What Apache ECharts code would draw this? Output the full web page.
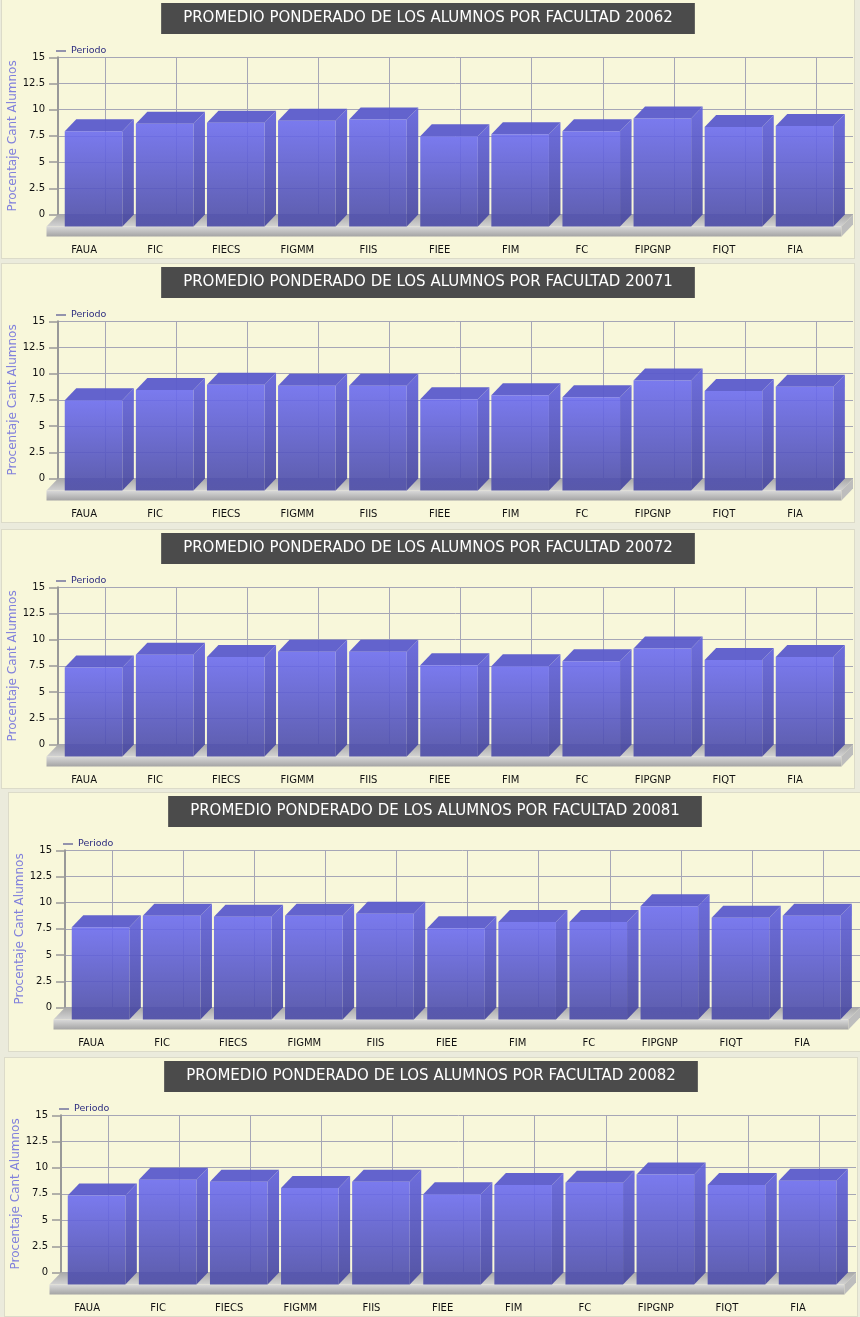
<!DOCTYPE html>
<html>
<head>
<meta charset="utf-8">
<title>Promedio ponderado de los alumnos por facultad</title>
<script src="https://cdn.jsdelivr.net/npm/echarts@6/dist/echarts.min.js"></script>
<style>
html, body { margin: 0; padding: 0; background: #ebebdc; }
body { width: 860px; height: 1317px; position: relative; overflow: hidden; }
.marco { position: absolute; width: 852px; height: 258px; background: #f8f7da; border: 1px solid #dcdbc9; }
</style>
</head>
<body>
<div id="g20062" class="marco" style="left:1px;top:-1px"></div>
<div id="g20071" class="marco" style="left:1px;top:263px"></div>
<div id="g20072" class="marco" style="left:1px;top:529px"></div>
<div id="g20081" class="marco" style="left:8px;top:792px"></div>
<div id="g20082" class="marco" style="left:4px;top:1057px"></div>
<script>
// datos
var facultades = ['FAUA', 'FIC', 'FIECS', 'FIGMM', 'FIIS', 'FIEE', 'FIM', 'FC', 'FIPGNP', 'FIQT', 'FIA'];
var periodos = ['20062', '20071', '20072', '20081', '20082'];
var ticksY = [0, 2.5, 5, 7.5, 10, 12.5, 15];

var prom20062 = [9.1, 9.8, 9.9, 10.1, 10.2, 8.6, 8.8, 9.1, 10.3, 9.5, 9.6];
var prom20071 = [8.6, 9.6, 10.1, 10.0, 10.0, 8.7, 9.1, 8.9, 10.5, 9.5, 9.9];
var prom20072 = [8.5, 9.7, 9.5, 10.0, 10.0, 8.7, 8.6, 9.1, 10.3, 9.2, 9.5];
var prom20081 = [8.8, 9.9, 9.8, 9.9, 10.1, 8.7, 9.3, 9.3, 10.8, 9.7, 9.9];
var prom20082 = [8.5, 10.0, 9.8, 9.2, 9.8, 8.6, 9.5, 9.7, 10.5, 9.5, 9.9];

var valores = {
    '20062': prom20062,
    '20071': prom20071,
    '20072': prom20072,
    '20081': prom20081,
    '20082': prom20082
};

// desplazamiento 3D (frente hacia abajo-izquierda)
var DX = 11.5, DY = 12, GROSOR = 10;
var FUENTE = 'DejaVu Sans';

function grad(c1, c2) {
    return new echarts.graphic.LinearGradient(0, 0, 0, 1, [
        {offset: 0, color: c1},
        {offset: 1, color: c2}
    ]);
}

// piso gris debajo de las barras
function renderPiso(params, api) {
    var cs = params.coordSys;
    var x0 = cs.x, x1 = cs.x + cs.width;
    var yb = cs.y + cs.height;
    return {
        type: 'group',
        children: [
            {type: 'polygon', shape: {points: [[x0, yb], [x1, yb], [x1 - DX, yb + DY], [x0 - DX, yb + DY]]},
                style: {fill: grad('#a9a9a9', '#d2d2d2')}},
            {type: 'rect', shape: {x: x0 - DX, y: yb + DY, width: x1 - x0, height: GROSOR},
                style: {fill: grad('#dadada', '#a4a4a4')}},
            {type: 'polygon', shape: {points: [[x1 - DX, yb + DY], [x1, yb], [x1, yb + GROSOR], [x1 - DX, yb + DY + GROSOR]]},
                style: {fill: '#bdbdbd'}}
        ]
    };
}

function renderBarra(params, api) {
    var i = api.value(0);
    var v = api.value(1);
    var tope = api.coord([i, v]);
    var base = api.coord([i, 0]);
    var medio = api.size([1, 0])[0] * 0.405;
    var x0 = tope[0] - medio, x1 = tope[0] + medio;
    var yt = tope[1], yb = base[1];
    return {
        type: 'group',
        children: [
            {type: 'polygon', shape: {points: [[x1 - DX, yt + DY], [x1, yt], [x1, yb], [x1 - DX, yb + DY]]},
                style: {fill: grad('#6262dc', '#48489e'), opacity: 0.93}},
            {type: 'polygon', shape: {points: [[x0 - DX, yt + DY], [x0, yt], [x1, yt], [x1 - DX, yt + DY]]},
                style: {fill: '#5b5bcc', opacity: 0.95}},
            {type: 'rect', shape: {x: x0 - DX, y: yt + DY, width: x1 - x0, height: yb - yt},
                style: {fill: grad('#6c6cf0', '#4b4ba6'), opacity: 0.9}}
        ]
    };
}

function dibujar(periodo) {
    var myChart = echarts.init(document.getElementById('g' + periodo));
    var datos = valores[periodo].map(function (v, i) { return [i, v]; });
    var top = 57.3, alto = 157.2;
    var option = {
        animation: false,
        title: {
            text: 'PROMEDIO PONDERADO DE LOS ALUMNOS POR FACULTAD ' + periodo,
            left: 'center',
            top: 3,
            padding: [7, 22],
            backgroundColor: '#4b4b4b',
            textStyle: {color: '#ffffff', fontSize: 15, fontWeight: 'normal',
                fontFamily: "'DejaVu Sans ExtraLight', 'DejaVu Sans'", lineHeight: 17}
        },
        legend: {
            data: [{name: 'Periodo', icon: 'rect'}],
            selectedMode: false,
            left: 49,
            top: 41,
            itemWidth: 10,
            itemHeight: 1,
            itemStyle: {color: '#2e2e80'},
            textStyle: {color: '#2e2e80', fontSize: 9.5, fontFamily: FUENTE}
        },
        grid: [
            // pared del fondo
            {left: 56, top: top, width: 795, height: alto, outerBoundsMode: 'none'},
            // centros de las categorias (fondo)
            {left: 103.05, top: top, width: 711, height: alto, outerBoundsMode: 'none'},
            // eje del frente con las etiquetas
            {left: 91.55, top: top, width: 711, height: alto, outerBoundsMode: 'none'}
        ],
        xAxis: [
            {type: 'value', gridIndex: 0, show: false, min: 0, max: 1},
            {
                type: 'category', gridIndex: 1, data: facultades, boundaryGap: false,
                axisLine: {show: false}, axisTick: {show: false}, axisLabel: {show: false},
                splitLine: {show: true, lineStyle: {color: '#a6a6b6', width: 1}}
            },
            {
                type: 'category', gridIndex: 2, data: facultades, boundaryGap: false,
                position: 'bottom', offset: DY + GROSOR,
                axisLine: {show: false},
                axisTick: {show: true, length: 5, lineStyle: {color: '#999999', width: 1.5}},
                axisLabel: {interval: 0, margin: 9, fontSize: 10, color: '#111111', fontFamily: FUENTE,
                    padding: [0, 19, 0, 0]},
                splitLine: {show: false}
            }
        ],
        yAxis: [
            {
                type: 'value', gridIndex: 0, min: ticksY[0], max: ticksY[ticksY.length - 1], interval: 2.5,
                name: 'Procentaje Cant Alumnos', nameLocation: 'middle', nameGap: 39, nameMoveOverlap: false,
                nameTextStyle: {color: '#8181dc', fontSize: 12, fontFamily: FUENTE},
                axisLine: {show: true, onZero: false, lineStyle: {color: '#999999', width: 2}},
                axisTick: {show: true, length: 9, lineStyle: {color: '#999999', width: 1.5}},
                axisLabel: {margin: 13, fontSize: 10, color: '#111111', fontFamily: FUENTE},
                splitLine: {show: true, lineStyle: {color: '#a6a6b6', width: 1}}
            },
            {type: 'value', gridIndex: 1, min: 0, max: 15, show: false, splitLine: {show: false}},
            {type: 'value', gridIndex: 2, min: 0, max: 15, show: false, splitLine: {show: false}}
        ],
        series: [
            {
                name: 'piso', type: 'custom', xAxisIndex: 0, yAxisIndex: 0,
                silent: true, z: 1, renderItem: renderPiso, data: [[0, 0]]
            },
            {
                name: 'Periodo', type: 'custom', xAxisIndex: 1, yAxisIndex: 1,
                z: 2, itemStyle: {color: '#2e2e80'},
                renderItem: renderBarra, encode: {x: 0, y: 1}, data: datos
            }
        ]
    };
    myChart.setOption(option);
}

for (var k = 0; k < periodos.length; k++) {
    dibujar(periodos[k]);
}
</script>
</body>
</html>
